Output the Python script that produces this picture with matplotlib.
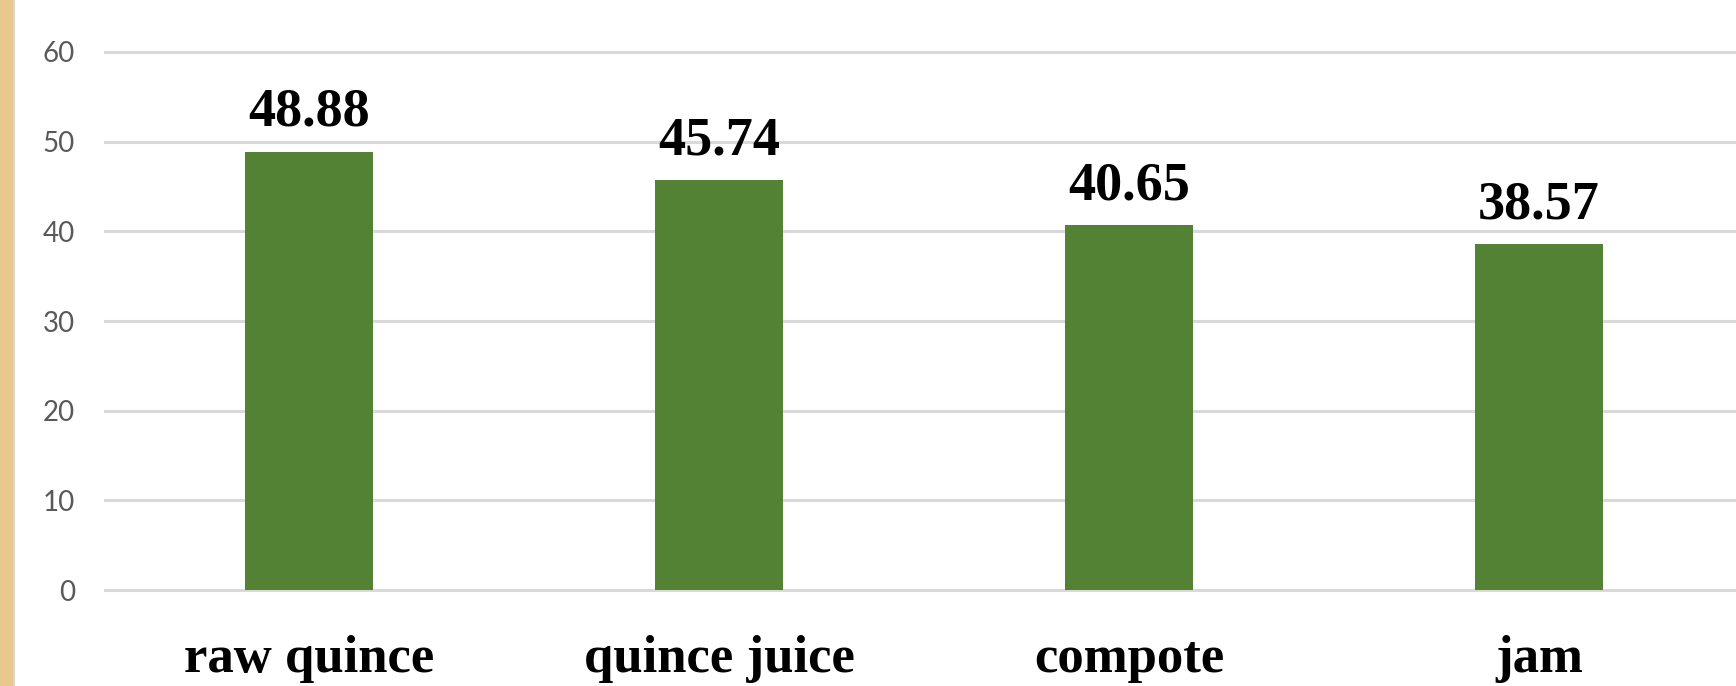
import matplotlib
matplotlib.use("Agg")
import matplotlib.pyplot as plt
from matplotlib.patches import Rectangle
from matplotlib.transforms import blended_transform_factory

# product categories and their measured values
products = ["raw quince", "quince juice", "compote", "jam"]
values = [48.88, 45.74, 40.65, 38.57]
yticks = [0, 10, 20, 30, 40, 50, 60]

fig = plt.figure(figsize=(17.36, 6.86), dpi=100)
fig.patch.set_facecolor("white")

# tan border strip on the left edge
fig.patches.append(Rectangle((0, 0), 13 / 1736, 1, transform=fig.transFigure,
                             facecolor="#E8C88F", edgecolor="none", zorder=0))
fig.patches.append(Rectangle((13 / 1736, 0), 2 / 1736, 1, transform=fig.transFigure,
                             facecolor="#D6D6D6", edgecolor="none", zorder=0))

ax = fig.add_axes([104 / 1736, 87 / 686, 1640 / 1736, 556 / 686])
ax.set_facecolor("none")

x = list(range(len(products)))
ax.bar(x, values, width=0.312, color="#548235", zorder=3)

ax.set_xlim(-0.5, 3.5)
ax.set_ylim(-1, 61)
ax.set_yticks(yticks)
ax.set_yticklabels([str(t) for t in yticks], fontfamily="Lato", fontsize=20, color="#595959")
ax.tick_params(axis="y", length=0, pad=21)
ax.set_xticks([])
ax.grid(axis="y", color="#D9D9D9", linewidth=2.2, zorder=0)
for s in ax.spines.values():
    s.set_visible(False)

# value labels above each bar
for xi, v in zip(x, values):
    ax.annotate(f"{v:.2f}", (xi, v), xytext=(0, 18.5), textcoords="offset points",
                ha="center", va="baseline", fontfamily="Liberation Serif",
                fontweight="bold", fontsize=39, color="black")

# category labels under the axis
trans = blended_transform_factory(ax.transData, fig.transFigure)
for xi, name in zip(x, products):
    ax.text(xi, 14 / 686, name, transform=trans, ha="center", va="baseline",
            fontfamily="Liberation Serif", fontweight="bold", fontsize=38,
            color="black", clip_on=False)

fig.savefig("out.png", dpi=100, facecolor=fig.get_facecolor())
